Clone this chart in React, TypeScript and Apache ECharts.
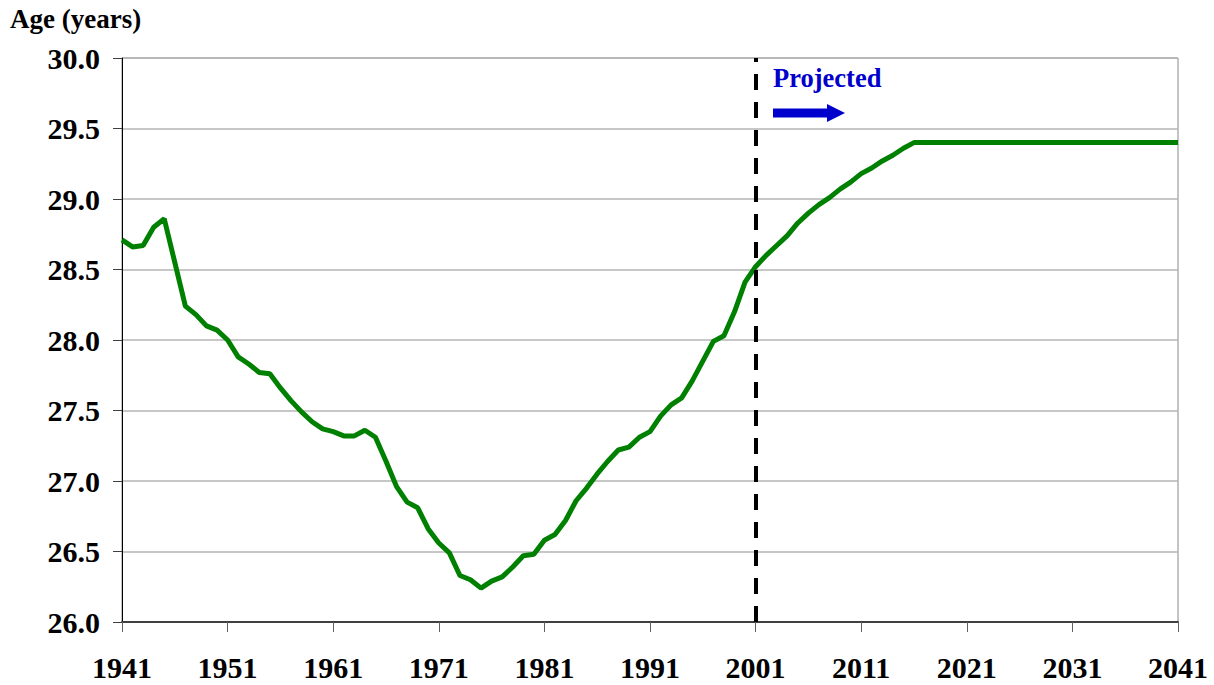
import React, { useEffect, useRef } from "react";
import * as echarts from "echarts";

const START_YEAR = 1941;
const END_YEAR = 2041;
const PROJECTION_YEAR = 2001;

const yTickMin = 26;
const yTickMax = 30;
const yTickStep = 0.5;
const xTickStep = 10;

const medianAge: number[] = [
  28.71, 28.66, 28.67, 28.8, 28.86, 28.55, 28.24, 28.18, 28.1, 28.07,
  28.0, 27.88, 27.83, 27.77, 27.76, 27.66, 27.57, 27.49, 27.42, 27.37,
  27.35, 27.32, 27.32, 27.36, 27.31, 27.14, 26.96, 26.85, 26.81, 26.66,
  26.56, 26.49, 26.33, 26.3, 26.24, 26.29, 26.32, 26.39, 26.47, 26.48,
  26.58, 26.62, 26.72, 26.86, 26.95, 27.05, 27.14, 27.22, 27.24, 27.31,
  27.35, 27.46, 27.54, 27.59, 27.71, 27.85, 27.99, 28.03, 28.2, 28.41,
  28.52, 28.6, 28.67, 28.74, 28.83, 28.9, 28.96, 29.01, 29.07, 29.12,
  29.18, 29.22, 29.27, 29.31, 29.36, 29.4, 29.4, 29.4, 29.4, 29.4,
  29.4, 29.4, 29.4, 29.4, 29.4, 29.4, 29.4, 29.4, 29.4, 29.4,
  29.4, 29.4, 29.4, 29.4, 29.4, 29.4, 29.4, 29.4, 29.4, 29.4,
  29.4,
];

const yAxisTitle = "Age (years)";
const projectedLabel = "Projected";

const SERIF = '"Liberation Serif", "Times New Roman", serif';

export default function App() {
  const ref = useRef<HTMLDivElement>(null);

  useEffect(() => {
    document.body.style.margin = "0";
    if (!ref.current) return;
    const chart = echarts.init(ref.current, undefined, { renderer: "svg" });

    const seriesData = medianAge.map((v, i) => [START_YEAR + i, v]);

    chart.setOption({
      animation: false,
      backgroundColor: "#ffffff",
      grid: {
        left: 122,
        right: 36,
        top: 58,
        bottom: 63,
        show: true,
        borderColor: "#888888",
        borderWidth: 1,
        backgroundColor: "transparent",
      },
      xAxis: {
        type: "value",
        min: START_YEAR,
        max: END_YEAR,
        interval: xTickStep,
        axisLine: { show: true, lineStyle: { color: "#404040", width: 2 } },
        axisTick: { show: true, length: 10, lineStyle: { color: "#606060", width: 1 } },
        splitLine: { show: false },
        axisLabel: {
          formatter: (v: number) => String(v),
          fontFamily: SERIF,
          fontWeight: "bold",
          fontSize: 30,
          color: "#000000",
          margin: 30,
        },
      },
      yAxis: {
        type: "value",
        min: yTickMin,
        max: yTickMax,
        interval: yTickStep,
        axisLine: { show: true, lineStyle: { color: "#000000", width: 1 } },
        axisTick: { show: true, length: 9, lineStyle: { color: "#404040", width: 1 } },
        splitLine: { show: true, lineStyle: { color: "#b4b4b4", width: 1.5 } },
        axisLabel: {
          formatter: (v: number) => v.toFixed(1),
          fontFamily: SERIF,
          fontWeight: "bold",
          fontSize: 30,
          color: "#000000",
          margin: 22,
        },
      },
      series: [
        {
          type: "line",
          data: seriesData,
          showSymbol: false,
          symbol: "none",
          lineStyle: { color: "#008000", width: 5 },
          z: 3,
          markLine: {
            silent: true,
            symbol: ["none", "none"],
            label: { show: false },
            lineStyle: { color: "#000000", width: 4, type: [16, 12] },
            data: [{ xAxis: PROJECTION_YEAR }],
            z: 4,
          },
        },
      ],
      graphic: [
        {
          type: "text",
          left: 10,
          top: 5,
          style: {
            text: yAxisTitle,
            font: `bold 27px ${SERIF}`,
            fill: "#000000",
          },
        },
        {
          type: "text",
          x: 773,
          y: 78,
          style: {
            text: projectedLabel,
            font: `bold 26.5px ${SERIF}`,
            fill: "#0000cc",
            verticalAlign: "middle",
            align: "left",
          },
        },
        {
          type: "polygon",
          shape: {
            points: [
              [773, 108.5],
              [827, 108.5],
              [827, 104],
              [845, 113],
              [827, 122],
              [827, 117.5],
              [773, 117.5],
            ],
          },
          style: { fill: "#0000cc" },
        },
      ],
    });

    return () => {
      chart.dispose();
    };
  }, []);

  return (
    <div
      ref={ref}
      style={{ position: "absolute", left: 0, top: 0, width: 1214, height: 685 }}
    />
  );
}
